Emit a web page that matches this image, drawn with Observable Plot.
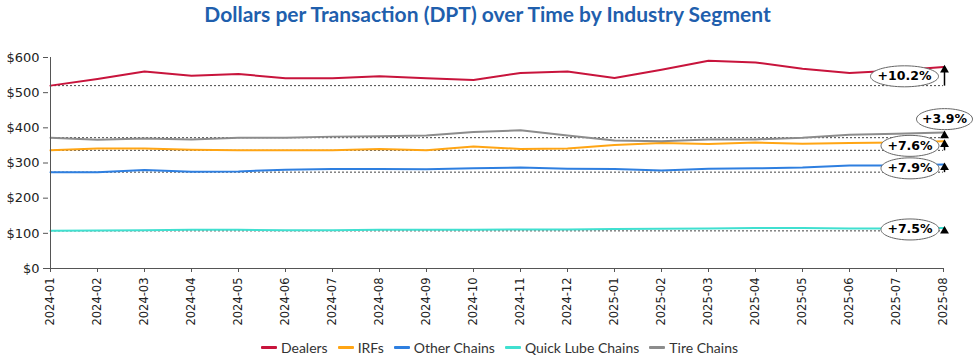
<!DOCTYPE html>
<html>
<head>
<meta charset="utf-8">
<script src="https://cdn.jsdelivr.net/npm/d3@7"></script>
<script src="https://cdn.jsdelivr.net/npm/@observablehq/plot@0.6"></script>
<style>
  html, body { margin: 0; padding: 0; background: #fff; }
  #wrap { width: 975px; height: 362px; position: relative; }
  #title { height: 30px; line-height: 27px; text-align: center; font-family: Lato, "Open Sans", sans-serif; font-weight: 700; font-size: 21px; color: #1f5fad; }
  #legend { height: 30px; display: flex; justify-content: center; align-items: center; gap: 10px; font-family: Lato, "Open Sans", sans-serif; font-size: 14px; color: #333; padding-left: 24px; }
  .item { display: flex; align-items: center; gap: 4px; }
  .sw { width: 16px; height: 3px; border-radius: 1px; }
  svg { display: block; overflow: visible; }
</style>
</head>
<body>
<div id="wrap">
  <div id="title">Dollars per Transaction (DPT) over Time by Industry Segment</div>
  <div id="chart"></div>
  <div id="legend"></div>
</div>
<script>
const months = ["2024-01","2024-02","2024-03","2024-04","2024-05","2024-06","2024-07","2024-08","2024-09","2024-10","2024-11","2024-12","2025-01","2025-02","2025-03","2025-04","2025-05","2025-06","2025-07","2025-08"];
const seriesNames = ["Dealers","IRFs","Other Chains","Quick Lube Chains","Tire Chains"];
const dealers     = [520,539,560,548,553,541,541,547,541,536,556,560,542,565,591,586,568,556,563,573];
const irfs        = [336,341,341,338,336,336,336,340,336,347,340,341,351,357,354,358,355,357,358,361.5];
const otherChains = [274,274,280,275,276,281,283,283,282,285,287,284,283,279,284,285,287,293,293,295.6];
const quickLube   = [107,108,109,110,110,109,109,110,110,110,111,111,112,113,114,115,115,114,114,115];
const tireChains  = [372,366,370,367,372,372,375,376,378,388,393,378,364,362,367,367,372,380,383,386.5];
const changeLabels = ["+10.2%","+7.6%","+7.9%","+7.5%","+3.9%"];
const yTicks = [0,100,200,300,400,500,600];

const colors = ["#c8143c","#ffa514","#2e7fe0","#40e0d0","#8c8c8c"];
const valuesBySeries = [dealers, irfs, otherChains, quickLube, tireChains];

const rows = [];
seriesNames.forEach((s, i) => valuesBySeries[i].forEach((v, j) => rows.push({series: s, month: months[j], value: v})));

const first = months[0], last = months[months.length - 1];
const summary = seriesNames.map((s, i) => {
  const vals = valuesBySeries[i];
  return {series: s, start: vals[0], end: vals[vals.length - 1], mid: (vals[0] + vals[vals.length - 1]) / 2, label: changeLabels[i]};
});

function ellipse(rx, ry) {
  const k = 0.5523;
  return {draw(ctx) {
    ctx.moveTo(rx, 0);
    ctx.bezierCurveTo(rx, ry * k, rx * k, ry, 0, ry);
    ctx.bezierCurveTo(-rx * k, ry, -rx, ry * k, -rx, 0);
    ctx.bezierCurveTo(-rx, -ry * k, -rx * k, -ry, 0, -ry);
    ctx.bezierCurveTo(rx * k, -ry, rx, -ry * k, rx, 0);
    ctx.closePath();
  }};
}

const wide = summary.filter(d => d.series === "Dealers");
const normal = summary.filter(d => d.series !== "Dealers" && d.series !== "Tire Chains");
const lifted = summary.filter(d => d.series === "Tire Chains");

const plot = Plot.plot({
  width: 975,
  height: 302,
  marginTop: 27,
  marginBottom: 64,
  marginLeft: 48,
  marginRight: 31,
  style: {fontFamily: "DejaVu Sans, sans-serif", fontSize: "12px", color: "#222", overflow: "visible"},
  x: {type: "point", domain: months, padding: 0},
  y: {domain: [0, 600]},
  color: {domain: seriesNames, range: colors},
  marks: [
    Plot.ruleY(summary, {y: "start", x1: () => first, x2: () => last, stroke: "#444", strokeWidth: 1, strokeDasharray: "2,2"}),
    Plot.line(rows, {x: "month", y: "value", z: "series", stroke: "series", strokeWidth: 2}),
    Plot.ruleX([first], {stroke: "#555", strokeWidth: 1}),
    Plot.ruleY([0], {stroke: "#555", strokeWidth: 1}),
    Plot.axisY({ticks: yTicks, tickFormat: d => "$" + d, tickSize: 5, tickPadding: 4, stroke: "#555", fontSize: 13, label: null}),
    Plot.axisX({tickRotate: -90, tickSize: 4, fontSize: 11.5, label: null, stroke: "#555"}),
    Plot.link(summary, {x1: () => last, x2: () => last, y1: "start", y2: "end", dx: 1, stroke: "#000", strokeWidth: 1.5}),
    Plot.dot(summary, {x: () => last, y: "end", dx: 1, dy: 3, symbol: "triangle", r: 3.3, fill: "#000", stroke: null}),
    Plot.dot(wide, {x: () => last, y: "mid", dx: -39, symbol: ellipse(34, 10.5), fill: "#fff", stroke: "#666", strokeWidth: 1}),
    Plot.dot(normal, {x: () => last, y: "mid", dx: -33.5, symbol: ellipse(29, 10.5), fill: "#fff", stroke: "#666", strokeWidth: 1}),
    Plot.dot(lifted, {x: () => last, y: "mid", dx: 1, dy: -16, symbol: ellipse(28, 10.5), fill: "#fff", stroke: "#666", strokeWidth: 1}),
    Plot.text(wide, {x: () => last, y: "mid", dx: -39, text: "label", fontWeight: "bold", fontSize: 12.5, fill: "#000"}),
    Plot.text(normal, {x: () => last, y: "mid", dx: -33.5, text: "label", fontWeight: "bold", fontSize: 12.5, fill: "#000"}),
    Plot.text(lifted, {x: () => last, y: "mid", dx: 1, dy: -16, text: "label", fontWeight: "bold", fontSize: 12.5, fill: "#000"})
  ]
});
document.getElementById("chart").appendChild(plot);

const legend = document.getElementById("legend");
seriesNames.forEach((s, i) => {
  const it = document.createElement("div");
  it.className = "item";
  const sw = document.createElement("span");
  sw.className = "sw";
  sw.style.background = colors[i];
  const t = document.createElement("span");
  t.textContent = s;
  it.appendChild(sw); it.appendChild(t);
  legend.appendChild(it);
});
</script>
</body>
</html>
